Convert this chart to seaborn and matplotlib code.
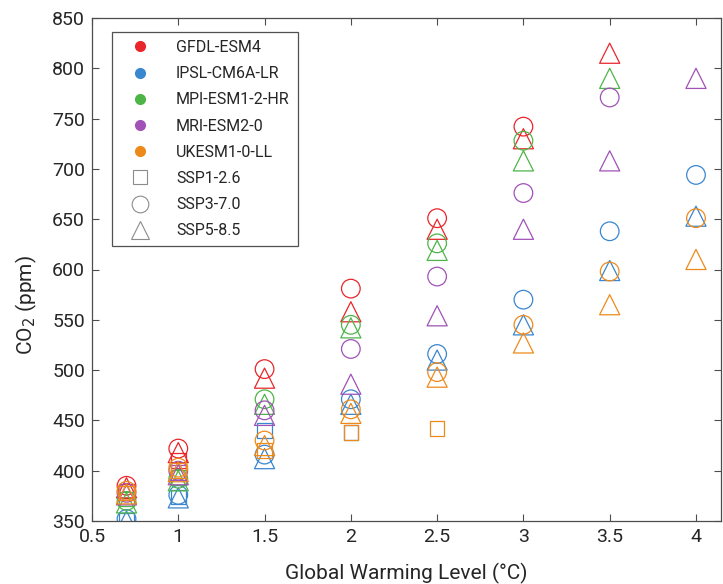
import numpy as np
import pandas as pd
import matplotlib
matplotlib.use("Agg")
import matplotlib.pyplot as plt
from matplotlib.lines import Line2D
import seaborn as sns

# Global warming levels (°C)
gwl = [0.7, 1.0, 1.5, 2.0, 2.5, 3.0, 3.5, 4.0]
nan = np.nan

models = ["GFDL-ESM4", "IPSL-CM6A-LR", "MPI-ESM1-2-HR", "MRI-ESM2-0", "UKESM1-0-LL"]
scenarios = ["SSP1-2.6", "SSP3-7.0", "SSP5-8.5"]
model_colors = ["#E8262B", "#3A86CF", "#4DB548", "#A052B6", "#EE8A1C"]

# CO2 concentration (ppm) reached at each warming level
gfdl_126 = [380, 410, nan, nan, nan, nan, nan, nan]
gfdl_370 = [385, 422, 501, 581, 651, 742, nan, nan]
gfdl_585 = [383, 418, 492, 558, 640, 730, 815, nan]

ipsl_126 = [351, 374, 440, 438, nan, nan, nan, nan]
ipsl_370 = [352, 376, 416, 471, 516, 570, 638, 694]
ipsl_585 = [350, 373, 412, 466, 510, 545, 599, 653]

mpi_126 = [372, 393, nan, nan, nan, nan, nan, nan]
mpi_370 = [370, 392, 471, 545, 626, 728, nan, nan]
mpi_585 = [368, 390, 466, 542, 619, 708, 790, nan]

mri_126 = [378, 398, nan, nan, nan, nan, nan, nan]
mri_370 = [378, 400, 460, 521, 593, 676, 771, nan]
mri_585 = [376, 396, 455, 486, 554, 640, 708, 790]

ukesm_126 = [378, 400, 420, 438, 442, nan, nan, nan]
ukesm_370 = [380, 403, 430, 461, 498, 545, 598, 651]
ukesm_585 = [377, 399, 425, 457, 493, 527, 565, 610]

series = {
    ("GFDL-ESM4", "SSP1-2.6"): gfdl_126,
    ("GFDL-ESM4", "SSP3-7.0"): gfdl_370,
    ("GFDL-ESM4", "SSP5-8.5"): gfdl_585,
    ("IPSL-CM6A-LR", "SSP1-2.6"): ipsl_126,
    ("IPSL-CM6A-LR", "SSP3-7.0"): ipsl_370,
    ("IPSL-CM6A-LR", "SSP5-8.5"): ipsl_585,
    ("MPI-ESM1-2-HR", "SSP1-2.6"): mpi_126,
    ("MPI-ESM1-2-HR", "SSP3-7.0"): mpi_370,
    ("MPI-ESM1-2-HR", "SSP5-8.5"): mpi_585,
    ("MRI-ESM2-0", "SSP1-2.6"): mri_126,
    ("MRI-ESM2-0", "SSP3-7.0"): mri_370,
    ("MRI-ESM2-0", "SSP5-8.5"): mri_585,
    ("UKESM1-0-LL", "SSP1-2.6"): ukesm_126,
    ("UKESM1-0-LL", "SSP3-7.0"): ukesm_370,
    ("UKESM1-0-LL", "SSP5-8.5"): ukesm_585,
}

rows = []
for (model, scen), vals in series.items():
    for x, v in zip(gwl, vals):
        if not np.isnan(v):
            rows.append({"gwl": x, "co2": v, "model": model, "scenario": scen})
df = pd.DataFrame(rows)

sns.set_theme(style="white")
plt.rcParams["font.family"] = ["Roboto", "DejaVu Sans"]

fig = plt.figure(figsize=(7.23, 5.84), dpi=100)
ax = fig.add_axes([92 / 723, 63 / 584, 629 / 723, 503 / 584])

sns.scatterplot(
    data=df, x="gwl", y="co2", ax=ax,
    hue="model", hue_order=models, palette=model_colors,
    style="scenario", style_order=scenarios,
    markers={"SSP1-2.6": "s", "SSP3-7.0": "o", "SSP5-8.5": "^"},
    size="scenario", size_order=scenarios,
    sizes={"SSP1-2.6": 110, "SSP3-7.0": 180, "SSP5-8.5": 210},
    linewidth=0.9, legend=False,
)

# open markers: outline in the model colour, no fill
for coll in ax.collections:
    fc = coll.get_facecolors()
    coll.set_edgecolors(fc)
    coll.set_facecolors("none")
    coll.set_linewidths(0.9)

ax.set_xlim(0.5, 4.145)
ax.set_ylim(350, 850)
ax.set_xticks([0.5, 1, 1.5, 2, 2.5, 3, 3.5, 4])
ax.set_xticklabels(["0.5", "1", "1.5", "2", "2.5", "3", "3.5", "4"])
ax.set_yticks(np.arange(350, 851, 50))
ax.set_xlabel("Global Warming Level (°C)", fontsize=15, color="#262626", labelpad=12)
ax.set_ylabel("CO$_2$ (ppm)", fontsize=15, color="#262626")
ax.yaxis.set_label_coords(-0.085, 0.43)

for side in ["left", "right", "top", "bottom"]:
    ax.spines[side].set_visible(True)
    ax.spines[side].set_color("#4d4d4d")
    ax.spines[side].set_linewidth(0.9)
ax.tick_params(direction="in", length=5, width=0.8, color="#4d4d4d",
               top=True, right=True, bottom=True, left=True,
               labelsize=14, labelcolor="#262626", pad=5)

handles = [Line2D([], [], linestyle="none", marker="o", markersize=7,
                  markerfacecolor=c, markeredgecolor=c) for c in model_colors]
grey = "#8c8c8c"
handles += [
    Line2D([], [], linestyle="none", marker="s", markersize=9.5,
           markerfacecolor="none", markeredgecolor=grey, markeredgewidth=0.8),
    Line2D([], [], linestyle="none", marker="o", markersize=12,
           markerfacecolor="none", markeredgecolor=grey, markeredgewidth=0.8),
    Line2D([], [], linestyle="none", marker="^", markersize=13,
           markerfacecolor="none", markeredgecolor=grey, markeredgewidth=0.8),
]
leg = ax.legend(handles, models + scenarios, loc="upper left",
                bbox_to_anchor=(0.032, 0.972), fontsize=11.5,
                frameon=True, fancybox=False, edgecolor="#262626",
                labelspacing=0.7, handletextpad=1.0, borderpad=0.5,
                borderaxespad=0.0, handlelength=2.5)
leg.get_frame().set_linewidth(0.9)
for t in leg.get_texts():
    t.set_color("#262626")

fig.savefig("out.png", dpi=100)
